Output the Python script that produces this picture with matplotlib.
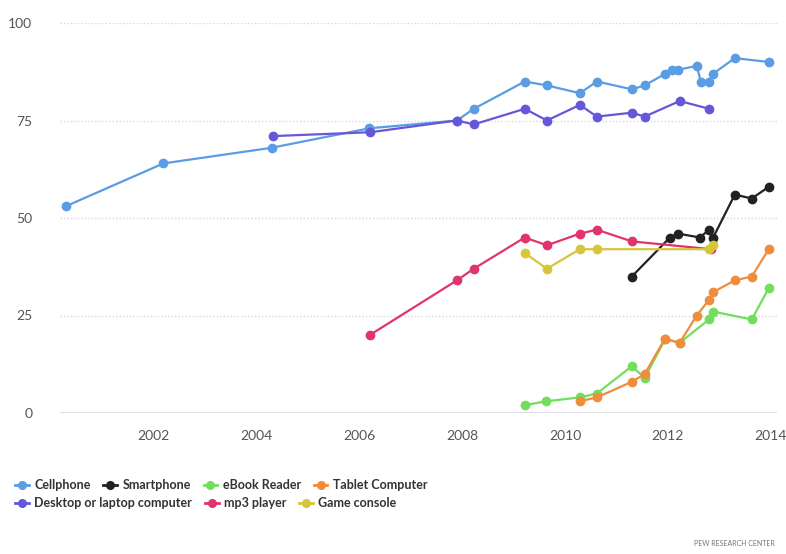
import matplotlib.pyplot as plt
from matplotlib.lines import Line2D

# survey dates (decimal years) and ownership (%)
cellYears = [2000.3, 2002.2, 2004.3, 2006.2, 2007.9, 2008.23, 2009.22, 2009.65, 2010.29,
             2010.62, 2011.3, 2011.55, 2011.95, 2012.08, 2012.2, 2012.56, 2012.64, 2012.8,
             2012.88, 2013.3, 2013.96]
cellValues = [53, 64, 68, 73, 75, 78, 85, 84, 82, 85, 83, 84, 87, 88, 88, 89, 85, 85, 87, 91, 90]

desktopYears = [2004.33, 2006.22, 2007.9, 2008.23, 2009.22, 2009.65, 2010.29, 2010.62,
                2011.3, 2011.55, 2012.23, 2012.8]
desktopValues = [71, 72, 75, 74, 78, 75, 79, 76, 77, 76, 80, 78]

smartYears = [2011.3, 2012.04, 2012.2, 2012.62, 2012.8, 2012.88, 2013.3, 2013.63, 2013.96]
smartValues = [35, 45, 46, 45, 47, 45, 56, 55, 58]

mp3Years = [2006.21, 2007.9, 2008.23, 2009.22, 2009.65, 2010.29, 2010.62, 2011.3, 2012.84]
mp3Values = [20, 34, 37, 45, 43, 46, 47, 44, 42]

ebookYears = [2009.22, 2009.63, 2010.29, 2010.62, 2011.3, 2011.55, 2011.95, 2012.23,
              2012.8, 2012.88, 2013.63, 2013.96]
ebookValues = [2, 3, 4, 5, 12, 9, 19, 18, 24, 26, 24, 32]

tabletYears = [2010.29, 2010.62, 2011.3, 2011.55, 2011.94, 2012.23, 2012.56, 2012.8,
               2012.88, 2013.3, 2013.63, 2013.96]
tabletValues = [3, 4, 8, 10, 19, 18, 25, 29, 31, 34, 35, 42]

gameYears = [2009.22, 2009.65, 2010.29, 2010.62, 2012.8, 2012.88]
gameValues = [41, 37, 42, 42, 42, 43]

xTicks = [2002, 2004, 2006, 2008, 2010, 2012, 2014]
yTicks = [0, 25, 50, 75, 100]

series = [
    ("Cellphone", cellYears, cellValues, "#5a9de4"),
    ("Desktop or laptop computer", desktopYears, desktopValues, "#6657d8"),
    ("Smartphone", smartYears, smartValues, "#222222"),
    ("mp3 player", mp3Years, mp3Values, "#e2346c"),
    ("eBook Reader", ebookYears, ebookValues, "#72df5c"),
    ("Tablet Computer", tabletYears, tabletValues, "#f08d3d"),
    ("Game console", gameYears, gameValues, "#d6c63b"),
]
colors = {name: c for name, _, _, c in series}

plt.rcParams['font.family'] = ['Lato', 'DejaVu Sans']

fig = plt.figure(figsize=(7.86, 5.54), dpi=100)
ax = fig.add_axes([60 / 786, 141 / 554, 717 / 786, 390 / 554])

for name, xs, ys, color in series:
    ax.plot(xs, ys, color=color, lw=1.6, marker='o', ms=6, zorder=3, clip_on=False)

ax.set_xlim(2000.19, 2014.12)
ax.set_ylim(0, 100)
ax.set_xticks(xTicks)
ax.set_yticks(yTicks)
ax.tick_params(length=0, labelsize=10, labelcolor="#555555")
ax.tick_params(axis='y', pad=20)
ax.tick_params(axis='x', pad=12)
for y in yTicks[1:]:
    ax.axhline(y, color="#d8d8d8", lw=1, ls=(0, (1, 1.5)), zorder=1)
ax.axhline(0, color="#dcdce8", lw=2, zorder=1)
for s in ax.spines.values():
    s.set_visible(False)


def handle(color):
    return Line2D([], [], color=color, lw=2, marker='o', ms=5.5)


row1 = ["Cellphone", "Smartphone", "eBook Reader", "Tablet Computer"]
row2 = ["Desktop or laptop computer", "mp3 player", "Game console"]
for names, yPos in [(row1, 485), (row2, 503)]:
    leg = fig.legend([handle(colors[n]) for n in names], names, ncol=len(names),
                     loc='center left', bbox_to_anchor=(15 / 786, 1 - yPos / 554),
                     frameon=False, handlelength=1.1, handletextpad=0.45,
                     columnspacing=1.0, borderpad=0, borderaxespad=0,
                     prop={'size': 9, 'weight': 'bold'})
    for t in leg.get_texts():
        t.set_color("#333333")

fig.text(775 / 786, 1 - 543 / 554, "PEW RESEARCH CENTER", ha='right', va='center',
         fontsize=5, color="#777777")

fig.savefig("out.png", dpi=100)
